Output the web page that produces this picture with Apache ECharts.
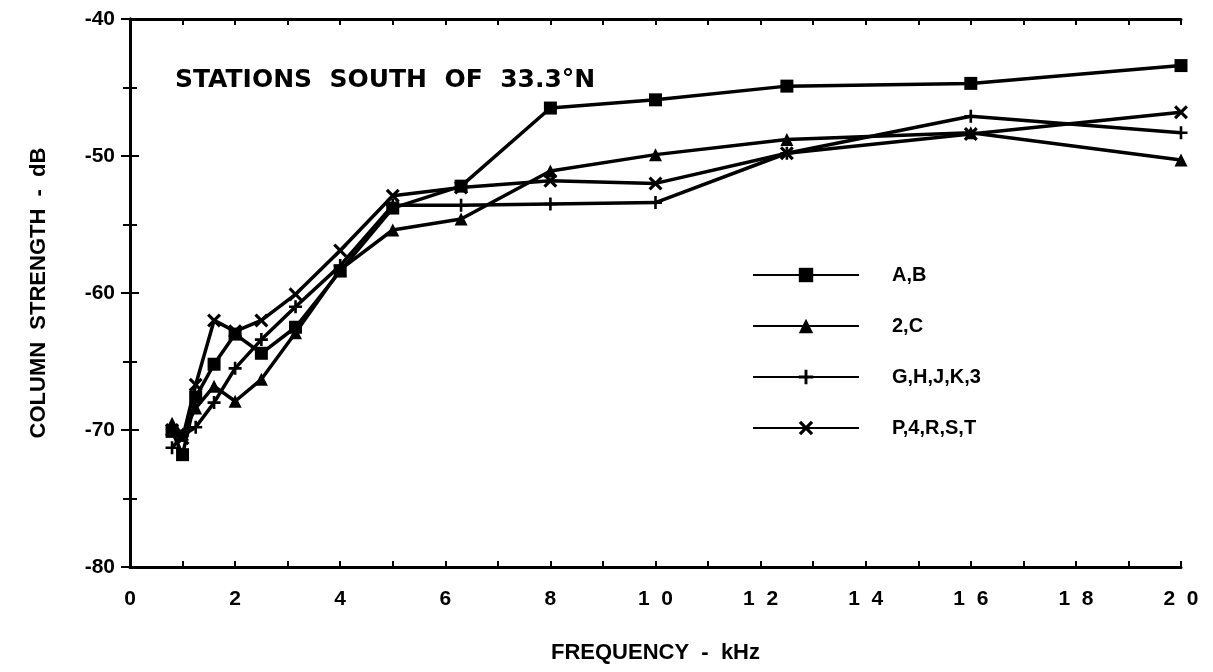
<!DOCTYPE html>
<html>
<head>
<meta charset="utf-8">
<script src="https://cdn.jsdelivr.net/npm/echarts@6/dist/echarts.min.js"></script>
<style>
html,body{margin:0;padding:0;background:#fff;}
#chart{width:1213px;height:672px;}
</style>
</head>
<body>
<div id="chart"></div>
<script>
// Frequencies (kHz)
const freqs = [0.8, 1, 1.25, 1.6, 2, 2.5, 3.15, 4, 5, 6.3, 8, 10, 12.5, 16, 20];
// Column strength (dB)
const seriesAB   = [-70.1, -71.8, -67.6, -65.2, -63.0, -64.4, -62.5, -58.4, -53.8, -52.2, -46.5, -45.9, -44.9, -44.7, -43.4];
const series2C   = [-69.5, -70.3, -68.4, -66.8, -67.9, -66.3, -62.9, -58.3, -55.4, -54.6, -51.1, -49.9, -48.8, -48.3, -50.3];
const seriesGHJK = [-71.3, -70.4, -69.8, -68.0, -65.5, -63.4, -61.0, -58.0, -53.6, -53.6, -53.5, -53.4, -49.8, -47.1, -48.3];
const seriesP4RS = [-70.0, -70.6, -66.7, -62.0, -62.8, -62.0, -60.1, -56.9, -52.9, -52.3, -51.8, -52.0, -49.8, -48.4, -46.8];
const seriesNames = ['A,B', '2,C', 'G,H,J,K,3', 'P,4,R,S,T'];
const titleText = 'STATIONS  SOUTH  OF  33.3°N';

const plusPath = 'path://M4,0H6V4H10V6H6V10H4V6H0V4H4Z';
const xPath = 'path://M0,1.6L1.6,0L5,3.4L8.4,0L10,1.6L6.6,5L10,8.4L8.4,10L5,6.6L1.6,10L0,8.4L3.4,5Z';

function pairs(ys){ return freqs.map((f,i)=>[f, ys[i]]); }

const chart = echarts.init(document.getElementById('chart'), null, {renderer:'canvas'});
const FONT = 'Liberation Sans';
const lineStyle = {color:'#000', width:3.5};
function mk(name, data, symbol, size){
  return {
    name, type:'line', data: pairs(data), symbol, symbolSize:size,
    xAxisIndex:0, yAxisIndex:0,
    lineStyle, itemStyle:{color:'#000'}, emphasis:{disabled:true},
    animation:false, z:3
  };
}
const xFmt = v => { const s = String(v); return s.length>1 ? s.split('').join('  ') : s; };
const axisCommon = {
  axisLine:{show:true, lineStyle:{color:'#000', width:3}},
  splitLine:{show:false},
};
chart.setOption({
  backgroundColor:'#fff',
  animation:false,
  title:{text:titleText, left:170, top:63, textStyle:{fontFamily:'DejaVu Sans', fontWeight:'bold', fontSize:25, color:'#000'}},
  grid:{left:130, right:32, top:19, bottom:105, containLabel:false},
  legend:{
    orient:'vertical', left:752, top:265, padding:0, itemWidth:106, itemHeight:18, itemGap:31,
    data: seriesNames,
    textStyle:{fontFamily:FONT, fontWeight:'bold', fontSize:20, color:'#000', lineHeight:20, padding:[0,0,0,28]},
    selectedMode:false
  },
  xAxis:[
    Object.assign({type:'value', min:0, max:20, interval:2, position:'bottom',
      name:'FREQUENCY  -  kHz', nameLocation:'middle', nameGap:75,
      nameTextStyle:{fontFamily:FONT, fontWeight:'bold', fontSize:22, color:'#000'},
      axisTick:{show:true, inside:true, length:6, lineStyle:{color:'#000', width:2}},
      minorTick:{show:true, splitNumber:2, length:6, lineStyle:{color:'#000', width:2}},
      axisLabel:{formatter:xFmt, margin:22, fontFamily:FONT, fontWeight:'bold', fontSize:21, color:'#000'}
    }, axisCommon),
    Object.assign({type:'value', min:0, max:20, interval:2, position:'top',
      axisTick:{show:true, inside:true, length:6, lineStyle:{color:'#000', width:2}},
      minorTick:{show:true, splitNumber:2, length:6, lineStyle:{color:'#000', width:2}},
      axisLabel:{show:false}
    }, axisCommon)
  ],
  yAxis:[
    Object.assign({type:'value', min:-80, max:-40, interval:10, position:'left',
      name:'COLUMN  STRENGTH  -  dB', nameLocation:'middle', nameGap:80,
      nameTextStyle:{fontFamily:FONT, fontWeight:'bold', fontSize:22, color:'#000'},
      axisTick:{show:true, inside:true, length:9, lineStyle:{color:'#000', width:2}},
      minorTick:{show:true, splitNumber:2, length:7, lineStyle:{color:'#000', width:2}},
      axisLabel:{margin:15, fontFamily:FONT, fontWeight:'bold', fontSize:21, color:'#000'}
    }, axisCommon),
    Object.assign({type:'value', min:-80, max:-40, interval:10, position:'right',
      axisTick:{show:true, inside:true, length:9, lineStyle:{color:'#000', width:2}},
      minorTick:{show:true, splitNumber:2, length:7, lineStyle:{color:'#000', width:2}},
      axisLabel:{show:false}
    }, axisCommon)
  ],
  series:[
    mk(seriesNames[0], seriesAB, 'rect', 13),
    mk(seriesNames[1], series2C, 'triangle', 13),
    mk(seriesNames[2], seriesGHJK, plusPath, 13),
    mk(seriesNames[3], seriesP4RS, xPath, 14)
  ]
});
</script>
</body>
</html>
